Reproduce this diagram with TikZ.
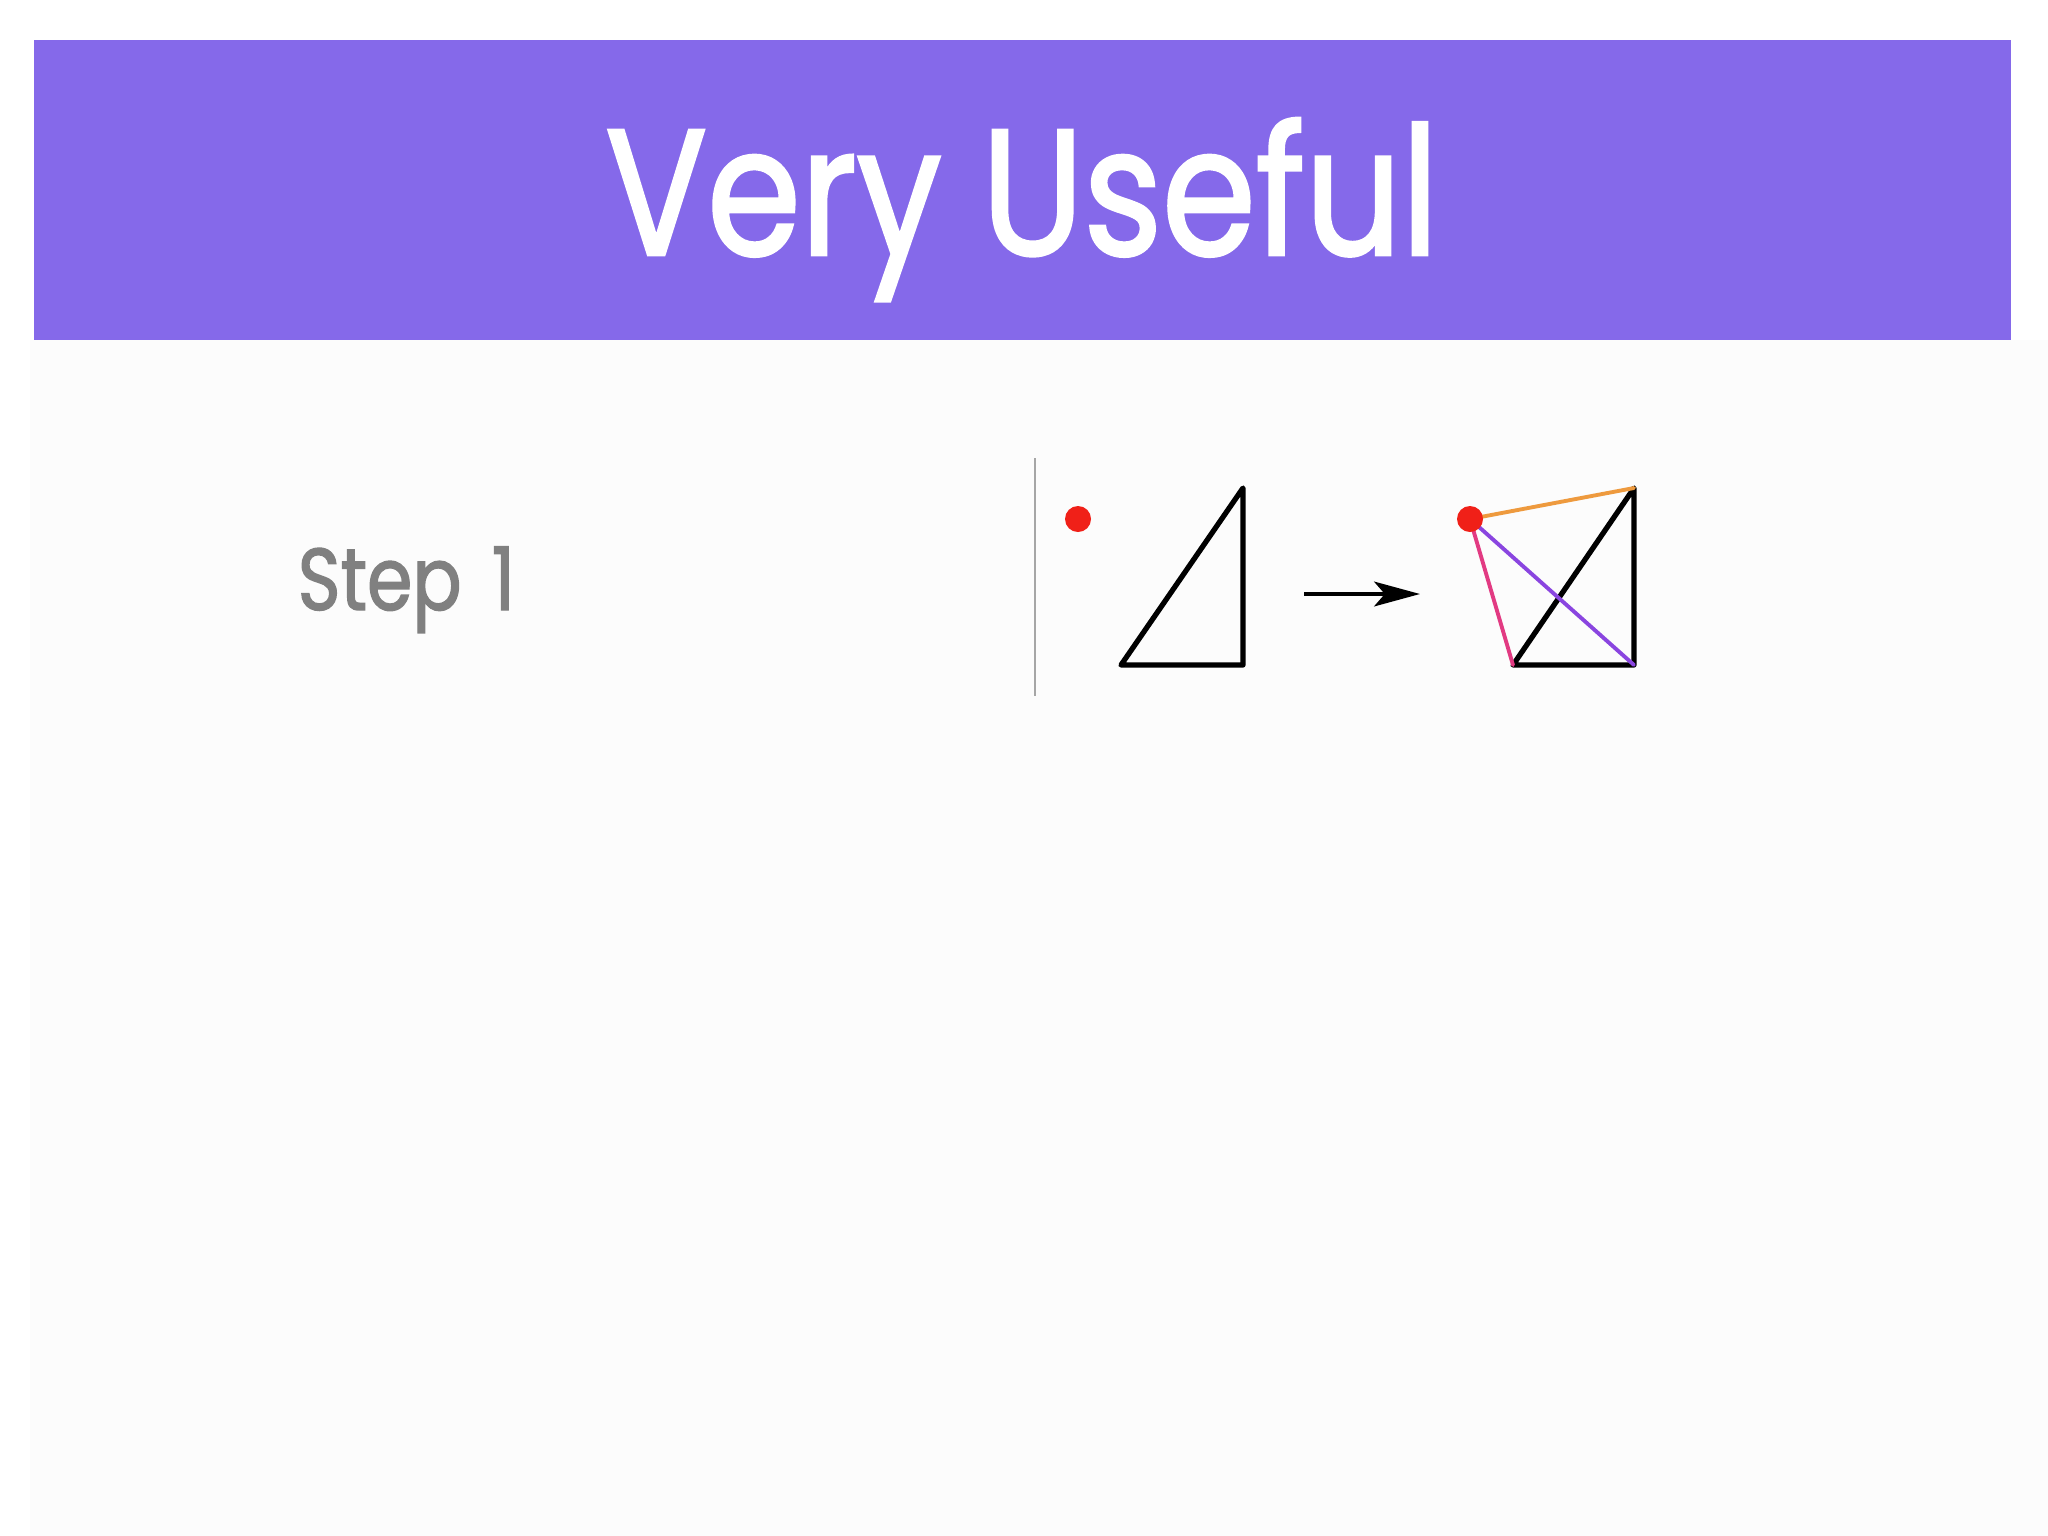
\documentclass[tikz,border=0pt]{standalone}
\usepackage{fontspec}
\setmainfont{Poppins}
\newfontfamily\titlefont{Poppins}[FakeStretch=0.84, FakeBold=1.6]
\newfontfamily\stepfont{Poppins}[FakeStretch=0.83, FakeBold=1.5]
\usetikzlibrary{arrows.meta}
\definecolor{banner}{HTML}{8569EA}
\definecolor{pagegrey}{HTML}{FCFCFC}
\definecolor{dotred}{HTML}{F02018}
\definecolor{sideorange}{HTML}{EE9A3E}
\definecolor{sideviolet}{HTML}{8A45E0}
\definecolor{sidepink}{HTML}{E23A82}
\definecolor{steptext}{HTML}{808080}

\begin{document}
\begin{tikzpicture}[x=0.01cm,y=-0.01cm,
  edge/.style={line width=1.5pt, line cap=round, line join=round},
  side/.style={line width=1.1pt, line cap=round},
  dot/.style={circle, fill=dotred, inner sep=0pt, minimum size=0.26cm}]
\fill[white] (0,0) rectangle (2048,1536);
\fill[pagegrey] (30,340) rectangle (2048,1536);
\fill[banner] (34,40) rectangle (2011,340);
\node[anchor=base, text=white, font=\titlefont\fontsize{51}{51}\selectfont] (title) at (1022,255) {Very Useful};
\node[anchor=base west, text=steptext, font=\stepfont\fontsize{25}{25}\selectfont, inner sep=0pt] (step) at (297,610) {Step\hspace{3pt} 1};

\draw[gray!70, line width=0.5pt] (1035,458) -- (1035,696);

% before
\node[dot] (p) at (1078,519) {};
\coordinate (a) at (1121,665);
\coordinate (b) at (1243,665);
\coordinate (c) at (1243,488);
\draw[edge] (a) -- (b) -- (c) -- cycle;

\coordinate (s) at (1304,594);
\coordinate (t) at (1420,594);
\draw[line width=1.4pt, -{Stealth[length=13pt, width=7pt, inset=3pt]}] (s) -- (t);

% after
\coordinate (a') at (1513,665);
\coordinate (b') at (1634,665);
\coordinate (c') at (1634,488);
\coordinate (q) at (1470,519);
\draw[edge] (a') -- (b') -- (c') -- cycle;
\draw[side, sideorange] (q) -- (c');
\draw[side, sideviolet] (q) -- (b');
\draw[side, sidepink] (q) -- (a');
\node[dot] (q') at (q) {};
\end{tikzpicture}
\end{document}
